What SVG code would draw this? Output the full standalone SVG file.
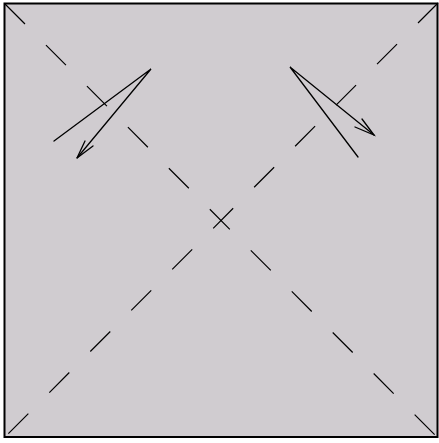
<svg xmlns="http://www.w3.org/2000/svg" width="439" height="443" viewBox="0 0 439 443">
<style>
.frame{fill:#d0ccd0;stroke:#000;stroke-width:2}
.diag{stroke:#000;stroke-width:1.2;stroke-dasharray:28.3 29.7;fill:none}
.arr{stroke:#000;stroke-width:1.3;fill:none;stroke-linejoin:miter;stroke-linecap:round}
</style>
<rect class="frame" x="4.5" y="3.5" width="433" height="433.5"/>
<g id="diagonals">
<line class="diag" x1="5" y1="4" x2="437" y2="437"/>
<line class="diag" x1="438" y1="3" x2="5" y2="437"/>
</g>
<g id="arrow-left">
<path class="arr" d="M54,141 L151,69 L77,158"/>
<path class="arr" d="M85,141 L77,158 L93,146"/>
</g>
<g id="arrow-right">
<path class="arr" d="M358,157 L290,67 L374,135"/>
<path class="arr" d="M362,119 L374,135 L355,127"/>
</g>
</svg>
